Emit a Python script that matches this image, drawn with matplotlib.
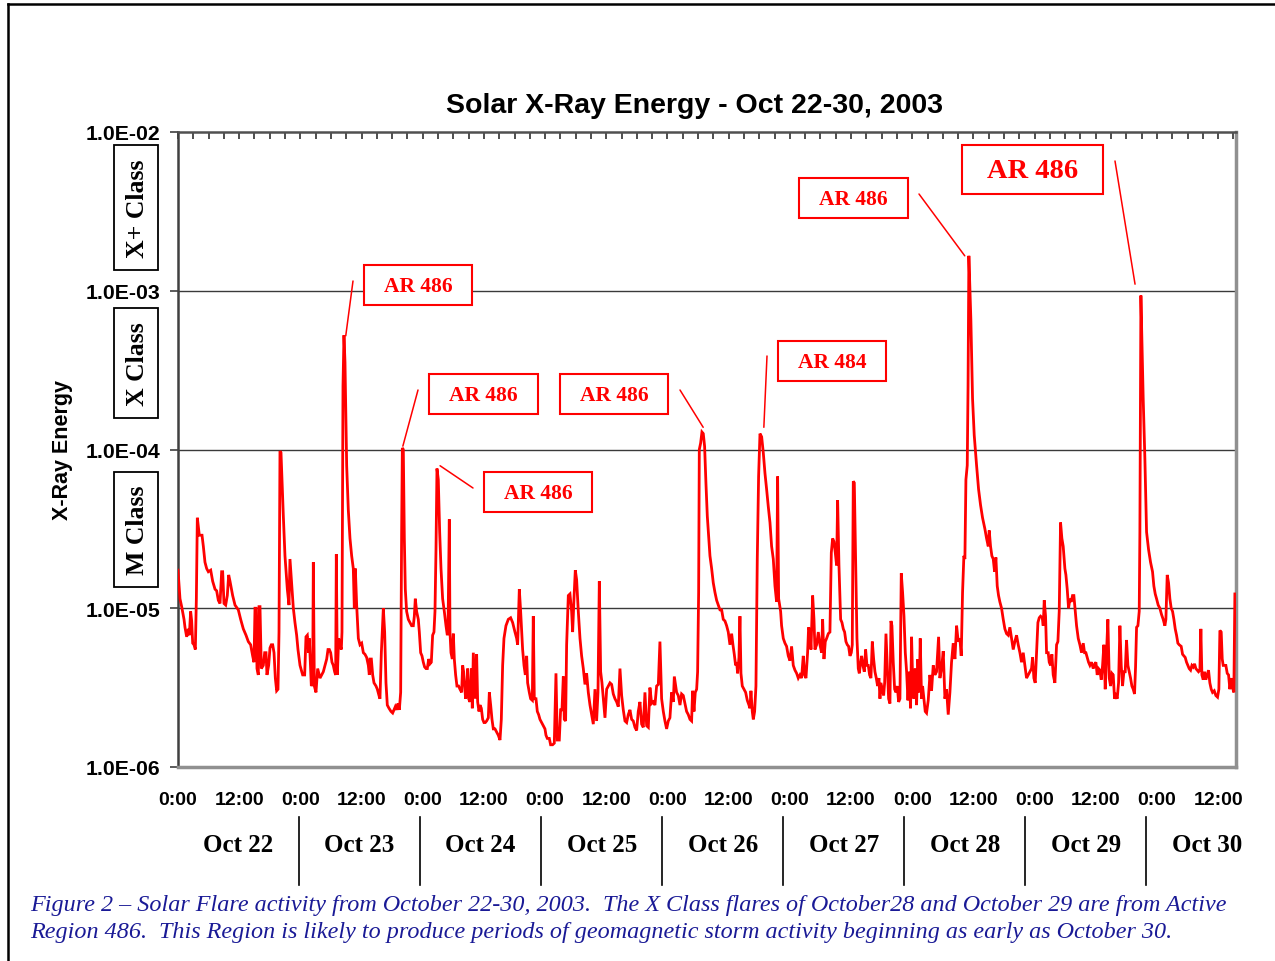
import matplotlib
matplotlib.use("Agg")
import numpy as np
import matplotlib.pyplot as plt
from matplotlib.patches import Rectangle
from matplotlib.lines import Line2D
from matplotlib.ticker import FixedLocator, FixedFormatter, NullLocator

# ---------------- data (hours since Oct 22 0:00 UT, log10 of X-ray flux) ----------------
seg1_hours = [0.00, 0.39, 0.72, 1.18, 1.37, 1.70, 2.03, 2.22, 2.48, 2.68, 2.88, 3.14, 3.40, 3.60, 3.79,
              4.18, 4.71, 4.97, 5.29, 5.62, 5.95, 6.41, 6.80, 7.26, 7.58, 7.91, 8.24, 8.56, 8.76, 9.02,
              9.35, 9.67, 9.94, 10.20, 10.72, 11.18, 11.83, 12.29, 12.81, 13.34, 13.79, 14.25, 14.64,
              14.90, 15.10, 15.30, 15.49, 15.75, 15.89, 16.08, 16.34, 16.73, 17.00, 17.26, 17.45, 17.78,
              18.04, 18.30, 18.57, 18.83, 19.09, 19.35, 19.61, 19.81, 20.00, 20.20, 20.66, 20.98, 21.44,
              21.77, 21.96, 22.23, 22.62, 22.94, 23.27, 23.53, 23.93, 24.45, 24.84, 25.10, 25.36, 25.63,
              25.76, 26.15, 26.41, 26.54, 26.74, 27.06, 27.39, 27.85, 28.17, 28.50, 28.83, 29.16, 29.42,
              29.68, 29.94, 30.20, 30.46, 30.72, 30.92, 31.05, 31.25, 31.51, 31.77, 32.03, 32.16, 32.36,
              32.55, 32.75, 32.94, 33.08, 33.40, 33.73, 34.06, 34.38, 34.58, 34.78, 35.04, 35.37, 35.69,
              36.02, 36.35, 36.67, 37.00, 37.33, 37.52, 37.65, 37.92, 38.18, 38.44, 38.83, 39.09, 39.42,
              39.61, 39.88, 40.07, 40.27, 40.53, 40.79, 41.05, 41.38, 41.77, 42.10, 42.36, 42.62, 42.88,
              43.14, 43.41, 43.67, 43.86, 44.00, 44.19, 44.39, 44.58, 44.84, 45.17, 45.50, 45.82, 46.15,
              46.35, 46.54, 46.80, 47.13, 47.33, 47.59, 47.85, 48.11, 48.37, 48.64, 48.90, 49.16, 49.42,
              49.68, 49.94, 50.20, 50.40, 50.60, 50.79, 51.05, 51.32, 51.58, 51.90, 52.23, 52.56, 52.82,
              52.95, 53.21, 53.34, 53.54, 53.80, 54.00, 54.19, 54.45, 54.71, 55.04, 55.30, 55.63, 55.83,
              56.02, 56.22, 56.41, 56.61, 56.81, 57.00, 57.26, 57.53, 57.72, 57.92, 58.11, 58.31, 58.57,
              58.77, 59.03, 59.23, 59.49, 59.75, 60.01, 60.27, 60.53, 60.86, 61.06, 61.32, 61.58, 61.84,
              62.17, 62.49, 62.82, 63.15, 63.41, 63.67, 63.93, 64.32, 64.78, 65.24, 65.63, 66.09, 66.42,
              66.61, 66.94, 67.20, 67.59, 67.86, 68.12, 68.38, 68.57, 68.90, 69.16, 69.49, 69.68, 69.88,
              70.21, 70.47, 70.73, 70.99, 71.32, 71.65, 71.97, 72.17, 72.43, 72.82]
seg1_logflux = [-4.76, -4.94, -4.99, -5.07, -5.12, -5.18, -5.13, -5.17, -5.02, -5.08, -5.22, -5.23, -5.26, -4.94, -4.43,
                -4.54, -4.54, -4.61, -4.71, -4.75, -4.77, -4.76, -4.83, -4.88, -4.89, -4.95, -4.97, -4.77, -4.77, -4.97,
                -4.98, -4.92, -4.79, -4.83, -4.92, -4.98, -5.01, -5.07, -5.13, -5.17, -5.21, -5.23, -5.30,
                -5.34, -5.00, -5.00, -5.38, -5.42, -4.99, -4.99, -5.38, -5.36, -5.28, -5.28, -5.42, -5.36,
                -5.25, -5.23, -5.23, -5.28, -5.44, -5.52, -5.51, -5.15, -4.01, -4.02, -4.42, -4.67, -4.88,
                -4.98, -4.69, -4.82, -5.00, -5.09, -5.17, -5.26, -5.36, -5.42, -5.42, -5.18, -5.17, -5.28,
                -5.19, -5.49, -5.47, -4.71, -5.49, -5.53, -5.38, -5.44, -5.42, -5.40, -5.36, -5.32, -5.26,
                -5.26, -5.28, -5.34, -5.36, -5.40, -5.42, -4.66, -5.42, -5.19, -5.23, -5.26, -5.15, -3.60,
                -3.28, -3.45, -3.81, -4.10, -4.38, -4.56, -4.67, -4.75, -5.00, -4.75, -4.98, -5.19, -5.23,
                -5.22, -5.28, -5.29, -5.31, -5.36, -5.42, -5.32, -5.32, -5.42, -5.47, -5.49, -5.51, -5.55,
                -5.57, -5.28, -5.15, -5.00, -5.15, -5.47, -5.61, -5.63, -5.65, -5.66, -5.64, -5.62, -5.64,
                -5.60, -5.64, -5.53, -4.52, -3.99, -4.00, -4.56, -4.88, -5.02, -5.07, -5.09, -5.11, -5.11,
                -5.05, -4.94, -5.02, -5.07, -5.15, -5.28, -5.30, -5.34, -5.37, -5.38, -5.38, -5.32, -5.35,
                -5.34, -5.17, -5.15, -5.02, -4.63, -4.12, -4.19, -4.52, -4.75, -4.94, -5.02, -5.11, -5.17,
                -5.15, -4.44, -5.15, -5.28, -5.32, -5.16, -5.32, -5.42, -5.49, -5.49, -5.51, -5.53, -5.36,
                -5.40, -5.49, -5.57, -5.53, -5.38, -5.57, -5.59, -5.38, -5.63, -5.28, -5.42, -5.57, -5.29,
                -5.59, -5.65, -5.61, -5.63, -5.70, -5.72, -5.72, -5.71, -5.69, -5.53, -5.61, -5.70, -5.76,
                -5.76, -5.78, -5.80, -5.83, -5.70, -5.36, -5.19, -5.11, -5.07, -5.06, -5.09, -5.15, -5.19,
                -5.23, -4.88, -5.02, -5.26, -5.36, -5.42, -5.30, -5.47, -5.53, -5.57, -5.58, -5.05, -5.57,
                -5.57, -5.65, -5.67, -5.70, -5.72, -5.74, -5.76, -5.80, -5.82, -5.82]

seg2_hours = [73.08, 73.47, 73.80, 74.13, 74.39, 74.78, 75.04, 75.31, 75.57, 75.76, 76.02, 76.22, 76.55, 76.87,
              77.20, 77.40, 77.66, 77.92, 78.18, 78.51, 78.84, 79.16, 79.49, 79.82, 80.14, 80.47, 80.80,
              81.12, 81.45, 81.78, 82.10, 82.37, 82.63, 82.89, 83.15, 83.41, 83.74, 84.07, 84.39, 84.72,
              85.05, 85.37, 85.70, 86.03, 86.35, 86.68, 87.01, 87.33, 87.66, 87.99, 88.31, 88.64, 88.97,
              89.29, 89.62, 89.95, 90.27, 90.60, 90.93, 91.25, 91.58, 91.91, 92.24, 92.56, 92.89, 93.22,
              93.54, 93.87, 94.20, 94.52, 94.85, 95.18, 95.50, 95.83, 96.16, 96.48, 96.81, 97.14, 97.34,
              97.60, 97.79, 98.12, 98.45, 98.77, 99.10, 99.43, 99.75, 100.08, 100.41, 100.73, 100.93,
              101.20, 101.45, 101.72, 101.91, 102.11, 102.24, 102.50, 102.76, 103.02, 103.28, 103.54,
              103.81, 104.07, 104.33, 104.66, 104.98, 105.31, 105.64, 105.96, 106.29, 106.62, 106.94,
              107.27, 107.60, 107.92, 108.25, 108.58, 108.84, 109.10, 109.36, 109.56, 109.76, 110.02,
              110.21, 110.41, 110.67, 111.00, 111.33, 111.65, 111.98, 112.17, 112.37, 112.63, 112.83,
              113.09, 113.35, 113.61, 113.87, 114.14, 114.47, 114.79, 115.12, 115.44, 115.77, 116.10,
              116.42, 116.75, 117.08, 117.40, 117.60, 117.80, 118.19, 118.38, 118.71, 119.04, 119.36,
              119.69, 120.02, 120.34, 120.67, 121.00, 121.33, 121.65, 121.98, 122.30, 122.63, 122.89,
              123.16, 123.48, 123.68, 123.94, 124.14, 124.47, 124.73, 124.92, 125.25, 125.58, 125.90,
              126.23, 126.43, 126.69, 126.95, 127.21, 127.54, 127.86, 128.13, 128.39, 128.65, 128.91,
              129.17, 129.37, 129.63, 129.96, 130.22, 130.48, 130.74, 131.00, 131.26, 131.52, 131.79,
              132.05, 132.24, 132.44, 132.64, 132.90, 133.16, 133.42, 133.62, 133.81, 134.07, 134.33,
              134.60, 134.86, 135.12, 135.38, 135.64, 135.90, 136.17, 136.43, 136.69, 136.95, 137.21,
              137.47, 137.67, 137.86, 138.13, 138.39, 138.59, 138.85, 139.11, 139.37, 139.63, 139.83,
              140.02, 140.28, 140.55, 140.81, 141.07, 141.33, 141.59, 141.85, 142.11, 142.38, 142.64,
              142.90, 143.16, 143.42]
seg2_logflux = [-5.86, -5.86, -5.85, -5.41, -5.83, -5.83, -5.64, -5.64, -5.43, -5.70, -5.71, -5.23, -4.92, -4.91,
                -5.02, -5.15, -4.94, -4.76, -4.82, -5.02, -5.19, -5.30, -5.38, -5.48, -5.41, -5.53, -5.61,
                -5.67, -5.73, -5.51, -5.71, -5.53, -4.83, -5.40, -5.47, -5.57, -5.69, -5.51, -5.49, -5.47,
                -5.48, -5.54, -5.57, -5.59, -5.62, -5.38, -5.55, -5.64, -5.71, -5.72, -5.67, -5.64, -5.70,
                -5.71, -5.75, -5.77, -5.65, -5.59, -5.73, -5.75, -5.53, -5.74, -5.75, -5.50, -5.60, -5.59,
                -5.61, -5.49, -5.48, -5.21, -5.57, -5.65, -5.71, -5.76, -5.71, -5.69, -5.53, -5.59, -5.43,
                -5.49, -5.53, -5.55, -5.61, -5.54, -5.55, -5.60, -5.65, -5.67, -5.70, -5.71, -5.52,
                -5.65, -5.53, -5.51, -5.40, -4.90, -4.00, -3.96, -3.89, -3.90, -3.98, -4.21,
                -4.42, -4.54, -4.67, -4.75, -4.84, -4.90, -4.95, -4.98, -5.01, -5.01, -5.07,
                -5.08, -5.11, -5.15, -5.23, -5.16, -5.23, -5.29, -5.36, -5.34, -5.41, -5.31,
                -5.05, -5.41, -5.49, -5.51, -5.53, -5.58, -5.61, -5.63, -5.52, -5.65, -5.70,
                -5.65, -5.49, -4.69, -4.17, -3.90, -3.92, -4.02, -4.15, -4.25, -4.36, -4.46,
                -4.61, -4.69, -4.86, -4.96, -4.17, -4.94, -5.02, -5.11, -5.19, -5.22, -5.24,
                -5.30, -5.33, -5.24, -5.36, -5.39, -5.41, -5.44, -5.42, -5.44, -5.30, -5.42,
                -5.44, -5.28, -5.12, -5.15, -5.26, -4.92, -5.07, -5.26, -5.23, -5.15, -5.23,
                -5.28, -5.07, -5.32, -5.21, -5.19, -5.16, -5.15, -4.65, -4.56, -4.58, -4.65,
                -4.73, -4.32, -4.73, -5.07, -5.09, -5.13, -5.15, -5.21, -5.23, -5.24, -5.30,
                -5.28, -5.23, -4.20, -4.21, -4.71, -5.19, -5.38, -5.41, -5.36, -5.30, -5.36,
                -5.40, -5.26, -5.36, -5.36, -5.42, -5.44, -5.21, -5.32, -5.40, -5.44, -5.49,
                -5.44, -5.57, -5.47, -5.51, -5.55, -5.47, -5.16, -5.36, -5.57, -5.60, -5.08,
                -5.11, -5.34, -5.51, -5.53, -5.49, -5.59, -5.57, -4.78, -4.90, -5.05, -5.28,
                -5.40, -5.58, -5.40]

seg3_hours = [143.67, 143.87, 144.07, 144.33, 144.59, 144.85, 145.11, 145.37, 145.57, 145.83, 146.03, 146.29,
              146.55, 146.81, 147.14, 147.47, 147.79, 148.12, 148.45, 148.77, 149.17, 149.43, 149.75, 150.08,
              150.41, 150.73, 151.06, 151.39, 151.71, 152.04, 152.37, 152.70, 153.02, 153.35, 153.61, 153.87,
              154.13, 154.33, 154.53, 154.79, 154.95, 155.11, 155.50, 155.83, 156.16, 156.62, 157.01, 157.40,
              157.79, 158.25, 158.58, 158.91, 159.10, 159.36, 159.62, 159.89, 160.15, 160.41, 160.67, 160.93,
              161.19, 161.52, 161.85, 162.17, 162.50, 162.83, 163.15, 163.48, 163.81, 164.13, 164.46, 164.79,
              165.12, 165.44, 165.77, 166.10, 166.42, 166.75, 167.08, 167.40, 167.60, 167.86, 168.12, 168.38,
              168.65, 168.91, 169.17, 169.50, 169.69, 169.89, 170.15, 170.35, 170.67, 170.87, 171.13, 171.39,
              171.65, 171.98, 172.31, 172.57, 172.83, 173.09, 173.35, 173.61, 173.94, 174.14, 174.40, 174.66,
              174.92, 175.18, 175.44, 175.70, 175.97, 176.23, 176.56, 176.88, 177.21, 177.54, 177.80, 178.06,
              178.32, 178.58, 178.85, 179.17, 179.50, 179.83, 180.02, 180.28, 180.54, 180.80, 181.07, 181.33,
              181.59, 181.85, 182.11, 182.37, 182.64, 182.90, 183.16, 183.42, 183.68, 183.94, 184.20, 184.47,
              184.73, 184.99, 185.25, 185.51, 185.77, 186.03, 186.30, 186.56, 186.82, 187.08, 187.34, 187.60,
              187.80, 188.00, 188.26, 188.52, 188.65, 188.85, 189.30, 189.63, 189.96, 190.35, 190.74, 191.13,
              191.39, 191.66, 191.92, 192.24, 192.57, 192.90, 193.22, 193.55, 193.75, 194.01, 194.27, 194.53,
              194.79, 195.06, 195.32, 195.58, 195.84, 196.10, 196.36, 196.75, 197.02, 197.28, 197.54, 197.80,
              198.06, 198.32, 198.59, 198.85, 199.11, 199.37, 199.63, 199.89, 200.15, 200.42, 200.61, 200.81,
              201.07, 201.33, 201.59, 201.85, 202.11, 202.37, 202.64, 202.90, 203.23, 203.55, 203.88, 204.14,
              204.34, 204.60, 204.80, 204.99, 205.25, 205.51, 205.78, 206.04, 206.30, 206.56, 206.82, 207.08,
              207.28]
seg3_logflux = [-5.63, -5.18, -5.44, -5.57, -5.38, -5.61, -5.32, -5.53, -5.19, -5.57, -5.49, -5.57,
                -5.65, -5.66, -5.58, -5.42, -5.52, -5.36, -5.42, -5.40, -5.18, -5.44, -5.38, -5.27,
                -5.57, -5.51, -5.67, -5.53, -5.34, -5.22, -5.32, -5.11, -5.21, -5.19, -5.30, -4.90,
                -4.67, -4.69, -4.19, -4.10, -3.60, -2.78, -3.18, -3.68, -3.91, -4.10, -4.25, -4.35,
                -4.43, -4.50, -4.56, -4.61, -4.51, -4.61, -4.67, -4.69, -4.77, -4.68, -4.86, -4.92,
                -4.96, -5.00, -5.07, -5.13, -5.16, -5.17, -5.12, -5.19, -5.26, -5.21, -5.17, -5.23,
                -5.28, -5.34, -5.28, -5.36, -5.44, -5.42, -5.40, -5.38, -5.31, -5.44, -5.47, -5.28,
                -5.09, -5.06, -5.05, -5.06, -5.11, -4.95, -5.05, -5.28, -5.28, -5.34, -5.36, -5.29,
                -5.42, -5.47, -5.23, -5.21, -5.02, -4.46, -4.56, -4.61, -4.75, -4.79, -4.88, -5.00,
                -4.94, -4.96, -4.92, -4.92, -5.02, -5.11, -5.19, -5.23, -5.28, -5.22, -5.28, -5.28,
                -5.31, -5.34, -5.36, -5.34, -5.38, -5.35, -5.34, -5.42, -5.38, -5.39, -5.45, -5.36,
                -5.23, -5.51, -5.28, -5.07, -5.44, -5.49, -5.41, -5.42, -5.57, -5.55, -5.57, -5.47,
                -5.11, -5.36, -5.49, -5.40, -5.40, -5.20, -5.36, -5.40, -5.44, -5.49, -5.51, -5.54,
                -5.37, -5.12, -5.11, -5.02, -4.52, -3.03, -3.68, -4.06, -4.52, -4.63, -4.71, -4.77,
                -4.86, -4.91, -4.94, -4.98, -5.00, -5.04, -5.07, -5.11, -5.07, -4.79, -4.84, -4.94,
                -5.00, -5.02, -5.07, -5.13, -5.17, -5.22, -5.23, -5.24, -5.29, -5.30, -5.31, -5.34,
                -5.36, -5.38, -5.39, -5.36, -5.37, -5.35, -5.38, -5.39, -5.40, -5.39, -5.13, -5.42,
                -5.45, -5.40, -5.45, -5.42, -5.39, -5.47, -5.51, -5.53, -5.52, -5.55, -5.56, -5.51,
                -5.14, -5.15, -5.32, -5.36, -5.36, -5.36, -5.41, -5.42, -5.51, -5.44, -5.50, -5.53,
                -4.91]

y_ticks = [1e-6, 1e-5, 1e-4, 1e-3, 1e-2]
y_tick_labels = ["1.0E-06", "1.0E-05", "1.0E-04", "1.0E-03", "1.0E-02"]
x_tick_hours = list(range(0, 205, 12))
x_tick_labels = ["0:00" if h % 24 == 0 else "12:00" for h in x_tick_hours]
day_labels = ["Oct 22", "Oct 23", "Oct 24", "Oct 25", "Oct 26", "Oct 27", "Oct 28", "Oct 29", "Oct 30"]
class_labels = ["X+ Class", "X Class", "M Class"]

# flare annotations: label, peak time (h), peak flux
ann_labels = ["AR 486", "AR 486", "AR 486", "AR 486", "AR 484", "AR 486", "AR 486"]
ann_hours = [32.9, 44.1, 103.0, 51.4, 114.9, 154.3, 187.7]
ann_flux = [5.2e-4, 1.05e-4, 1.38e-4, 7.9e-5, 1.38e-4, 1.66e-3, 1.1e-3]

title = "Solar X-Ray Energy - Oct 22-30, 2003"
caption1 = ("Figure 2 \u2013 Solar Flare activity from October 22-30, 2003.  The X Class flares of "
            "October28 and October 29 are from Active")
caption2 = ("Region 486.  This Region is likely to produce periods of geomagnetic storm activity "
            "beginning as early as October 30.")

# ---------------- figure ----------------
W, H = 1275, 962
fig = plt.figure(figsize=(W / 100, H / 100), dpi=100)
fig.patch.set_facecolor("white")


def fx(px):
    return px / W


def fy(py):
    return 1 - py / H


SANS = "Liberation Sans"
SERIF = "Liberation Serif"

ax = fig.add_axes([fx(178), fy(768), fx(1236) - fx(178), fy(133) - fy(768)])
hours = np.array(seg1_hours + seg2_hours + seg3_hours)
flux = 10.0 ** np.array(seg1_logflux + seg2_logflux + seg3_logflux)
ax.plot(hours, flux, color="#ff0000", lw=2.0, solid_joinstyle="miter", zorder=3)

ax.set_yscale("log")
ax.set_ylim(1e-6, 1e-2)
ax.set_xlim(0, 207.5)
ax.yaxis.set_major_locator(FixedLocator(y_ticks))
ax.yaxis.set_major_formatter(FixedFormatter(y_tick_labels))
ax.yaxis.set_minor_locator(NullLocator())
ax.xaxis.set_major_locator(FixedLocator(x_tick_hours))
ax.xaxis.set_major_formatter(FixedFormatter(x_tick_labels))
ax.xaxis.set_minor_locator(NullLocator())
for yv in y_ticks[1:-1]:
    ax.axhline(yv, color="#3a3a3a", lw=1.0, zorder=1)

ax.tick_params(axis="y", direction="out", length=6, width=1.2, color="#404040", pad=7,
               labelsize=15.3)
ax.tick_params(axis="x", length=0, pad=17, labelsize=14)
for lab in ax.get_xticklabels() + ax.get_yticklabels():
    lab.set_fontfamily(SANS)
    lab.set_fontweight("bold")

ax.spines["left"].set_color("#404040")
ax.spines["left"].set_linewidth(1.8)
ax.spines["top"].set_color("#505050")
ax.spines["top"].set_linewidth(1.8)
ax.spines["bottom"].set_color("#909090")
ax.spines["bottom"].set_linewidth(2.5)
ax.spines["right"].set_color("#909090")
ax.spines["right"].set_linewidth(2.5)

top = ax.secondary_xaxis("top")
top.set_xticks(np.arange(0, 208, 3))
top.tick_params(direction="in", length=5, width=1.2, color="#303030", labeltop=False)
top.spines["top"].set_visible(False)

# title / labels
fig.text(fx(694), fy(106), title, ha="center", va="center", fontsize=20.5,
         fontweight="bold", family=SANS)
fig.text(fx(63), fy(450), "X-Ray Energy", ha="center", va="center", rotation=90,
         fontsize=15.5, fontweight="bold", family=SANS)

# class boxes
class_boxes = [(114, 146, 158, 271), (114, 309, 158, 419), (114, 473, 158, 588)]
for (x0, y0, x1, y1), lab in zip(class_boxes, class_labels):
    fig.add_artist(Rectangle((fx(x0), fy(y1)), fx(x1) - fx(x0), fy(y0) - fy(y1),
                             transform=fig.transFigure, facecolor="white",
                             edgecolor="black", lw=1.3))
    fig.text(fx((x0 + x1) / 2 + 1), fy((y0 + y1) / 2), lab, rotation=90, ha="center",
             va="center", fontsize=18.5, fontweight="bold", family=SERIF)

# annotation boxes
ann_boxes = [(364, 266, 472, 306), (429, 375, 538, 415), (560, 375, 668, 415),
             (484, 473, 592, 513), (778, 342, 886, 382), (799, 179, 908, 219),
             (962, 146, 1103, 195)]
ann_sizes = [15.5, 15.5, 15.5, 15.5, 15.5, 15.5, 20.5]
ann_line_start = [(353, 282), (418, 391), (680, 391), (473, 489), (767, 357),
                  (919, 195), (1115, 162)]
for lab, hx, fv, (x0, y0, x1, y1), size, (lx, ly) in zip(
        ann_labels, ann_hours, ann_flux, ann_boxes, ann_sizes, ann_line_start):
    fig.add_artist(Rectangle((fx(x0), fy(y1)), fx(x1) - fx(x0), fy(y0) - fy(y1),
                             transform=fig.transFigure, facecolor="white",
                             edgecolor="#ff0000", lw=1.5, zorder=4))
    fig.text(fx((x0 + x1) / 2), fy((y0 + y1) / 2 + 1), lab, ha="center", va="center",
             fontsize=size, fontweight="bold", family=SERIF, color="#ff0000", zorder=5)
    ax.annotate("", xy=(hx, fv), xycoords="data", xytext=(fx(lx), fy(ly)),
                textcoords="figure fraction", annotation_clip=False,
                arrowprops=dict(arrowstyle="-", color="#ff0000", lw=1.1,
                                shrinkA=0, shrinkB=0))

# day labels and dividers
day_x0, day_step = 238.5, 121.06
for i, lab in enumerate(day_labels):
    fig.text(fx(day_x0 + i * day_step), fy(846), lab, ha="center", va="center",
             fontsize=18, fontweight="bold", family=SERIF)
    if i < len(day_labels) - 1:
        xd = day_x0 + (i + 0.5) * day_step
        fig.add_artist(Line2D([fx(xd), fx(xd)], [fy(818), fy(886)], color="black",
                              lw=1.2, transform=fig.transFigure))

# caption
cap_color = "#1a1a96"
fig.text(fx(30), fy(911), caption1, ha="left", va="baseline", fontsize=17.4,
         style="italic", family=SERIF, color=cap_color)
fig.text(fx(30), fy(938), caption2, ha="left", va="baseline", fontsize=17.4,
         style="italic", family=SERIF, color=cap_color)

# page frame
fig.add_artist(Line2D([fx(8), fx(8)], [fy(5), 0], color="black", lw=1.8,
                      transform=fig.transFigure))
fig.add_artist(Line2D([fx(8), 1], [fy(5), fy(5)], color="black", lw=1.8,
                      transform=fig.transFigure))

fig.savefig("out.png", dpi=100)
